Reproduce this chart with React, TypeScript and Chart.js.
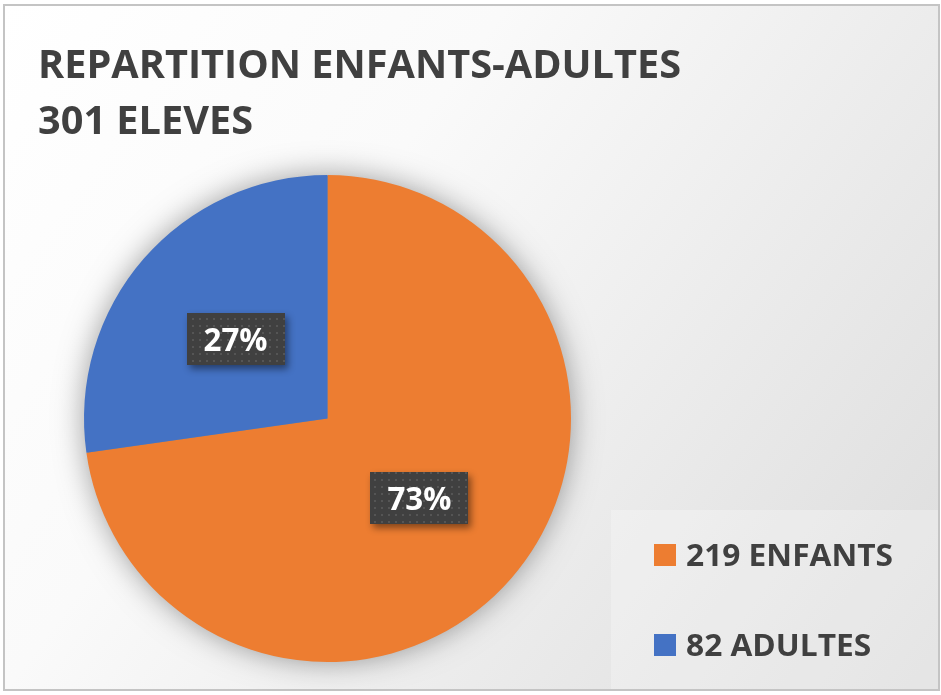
import React, { useEffect, useRef } from 'react';
import { Chart, registerables } from 'chart.js';

Chart.register(...registerables);

const TITLE_LINES = ['REPARTITION ENFANTS-ADULTES', '301 ELEVES'];
const CATEGORIES = ['ENFANTS', 'ADULTES'];
const VALUES = [219, 82];
const COLORS = ['#ED7D31', '#4472C4'];
const LEGEND_LABELS = VALUES.map((v, i) => `${v} ${CATEGORIES[i]}`);

const W = 941;
const H = 695;
const FONT = '"Open Sans", "DejaVu Sans", sans-serif';
const TEXT_COLOR = '#404040';

function scaledText(ctx: CanvasRenderingContext2D, text: string, x: number, y: number, sx: number) {
  ctx.save();
  ctx.translate(x, y);
  ctx.scale(sx, 1);
  ctx.fillText(text, 0, 0);
  ctx.restore();
}

function makePattern(ctx: CanvasRenderingContext2D) {
  const c = document.createElement('canvas');
  c.width = 7;
  c.height = 7;
  const p = c.getContext('2d')!;
  p.fillStyle = '#404040';
  p.fillRect(0, 0, 7, 7);
  p.fillStyle = '#555555';
  p.fillRect(3, 3, 2, 2);
  return ctx.createPattern(c, 'repeat');
}

const decorPlugin = {
  id: 'decor',
  beforeDraw(chart: any) {
    const ctx: CanvasRenderingContext2D = chart.ctx;
    ctx.save();
    ctx.fillStyle = '#ffffff';
    ctx.fillRect(0, 0, W, H);
    // frame background
    const g = ctx.createLinearGradient(4, 5, 939, 690);
    g.addColorStop(0, '#ffffff');
    g.addColorStop(0.35, '#fafafa');
    g.addColorStop(0.65, '#ececec');
    g.addColorStop(1, '#dcdcdc');
    ctx.fillStyle = g;
    ctx.fillRect(4, 5, 935, 685);
    ctx.strokeStyle = '#c4c4c4';
    ctx.lineWidth = 2;
    ctx.strokeRect(4, 5, 935, 685);

    // title
    ctx.fillStyle = TEXT_COLOR;
    ctx.font = `bold 39px ${FONT}`;
    ctx.textBaseline = 'alphabetic';
    ctx.textAlign = 'left';
    const tw = ctx.measureText(TITLE_LINES[0]).width;
    const tsx = 643 / tw;
    TITLE_LINES.forEach((t, i) => scaledText(ctx, t, 38, 78 + i * 56, tsx));

    // legend box
    ctx.fillStyle = 'rgba(255,255,255,0.25)';
    ctx.fillRect(611, 510, 327, 179);
    ctx.font = `bold 31px ${FONT}`;
    const lw = ctx.measureText(LEGEND_LABELS[0]).width;
    const lsx = 207 / lw;
    LEGEND_LABELS.forEach((t, i) => {
      const y = 544 + i * 90;
      ctx.fillStyle = COLORS[i];
      ctx.fillRect(654, y, 22, 22);
      ctx.fillStyle = TEXT_COLOR;
      scaledText(ctx, t, 686, y + 22, lsx);
    });

    // pie shadow
    const meta = chart.getDatasetMeta(0);
    const arc = meta.data[0];
    if (arc) {
      ctx.save();
      ctx.shadowColor = 'rgba(0,0,0,0.4)';
      ctx.shadowBlur = 30;
      ctx.fillStyle = '#888888';
      ctx.beginPath();
      ctx.arc(arc.x, arc.y, arc.outerRadius - 1, 0, Math.PI * 2);
      ctx.fill();
      ctx.restore();
    }
    ctx.restore();
  },
  afterDatasetsDraw(chart: any) {
    const ctx: CanvasRenderingContext2D = chart.ctx;
    const meta = chart.getDatasetMeta(0);
    const data: number[] = chart.data.datasets[0].data;
    const total = data.reduce((a, b) => a + b, 0);
    const pattern = makePattern(ctx);
    meta.data.forEach((arc: any, i: number) => {
      const mid = (arc.startAngle + arc.endAngle) / 2;
      const r = arc.outerRadius * 0.5;
      const cx = arc.x + Math.cos(mid) * r;
      const cy = arc.y + Math.sin(mid) * r;
      const bw = 98;
      const bh = 52;
      const x0 = Math.round(cx - bw / 2);
      const y0 = Math.round(cy - bh / 2);
      ctx.save();
      ctx.shadowColor = 'rgba(0,0,0,0.45)';
      ctx.shadowBlur = 7;
      ctx.shadowOffsetX = 3;
      ctx.shadowOffsetY = 4;
      ctx.fillStyle = '#404040';
      ctx.fillRect(x0, y0, bw, bh);
      ctx.restore();
      ctx.save();
      ctx.fillStyle = pattern || '#404040';
      ctx.fillRect(x0, y0, bw, bh);
      const txt = Math.round((data[i] / total) * 100) + '%';
      ctx.fillStyle = '#ffffff';
      ctx.font = `bold 32px ${FONT}`;
      ctx.textBaseline = 'alphabetic';
      ctx.textAlign = 'left';
      const w = ctx.measureText(txt).width;
      const sx = 64 / w;
      scaledText(ctx, txt, cx - 32, y0 + 38, sx);
      ctx.restore();
    });
  },
};

export default function App() {
  const ref = useRef<HTMLCanvasElement | null>(null);
  useEffect(() => {
    if (!ref.current) return;
    const chart = new Chart(ref.current, {
      type: 'pie',
      data: {
        labels: LEGEND_LABELS,
        datasets: [
          {
            data: VALUES,
            backgroundColor: COLORS,
            borderWidth: 0,
          },
        ],
      },
      options: {
        responsive: false,
        animation: false,
        devicePixelRatio: 1,
        layout: { padding: { left: 84, right: 370, top: 175, bottom: 33 } },
        plugins: {
          legend: { display: false },
          title: { display: false },
          tooltip: { enabled: false },
        },
      },
      plugins: [decorPlugin],
    });
    return () => chart.destroy();
  }, []);
  return (
    <div style={{ position: 'fixed', left: 0, top: 0, width: W, height: H, background: '#fff' }}>
      <canvas ref={ref} width={W} height={H} style={{ display: 'block', width: W, height: H }} />
    </div>
  );
}
